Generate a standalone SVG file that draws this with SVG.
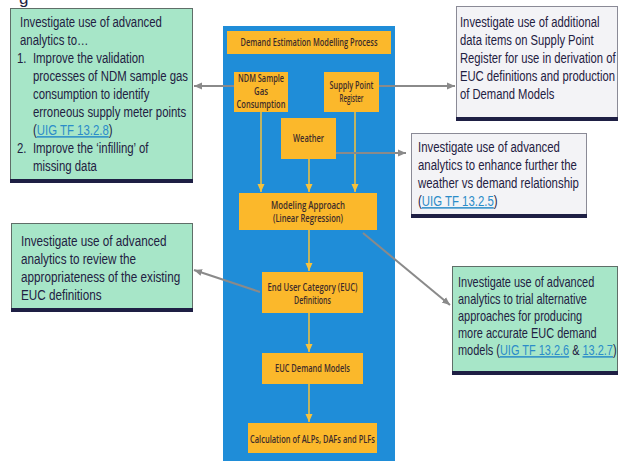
<svg xmlns="http://www.w3.org/2000/svg" width="619" height="464" viewBox="0 0 619 464">
<style>
.note{font-family:"Liberation Sans",Arial,sans-serif;font-size:15px;fill:#1f2142;}
.yl{font-family:"Open Sans","Liberation Sans",sans-serif;font-size:10.5px;font-weight:600;fill:#3e2c2a;text-anchor:middle;}
.green{fill:#a7e6c8;stroke:#5f6e68;stroke-width:1;}
.white{fill:#f3f3f6;stroke:#8a8a96;stroke-width:1;}
.bar{fill:#1e1f44;}
.ybox{fill:#fbb82b;}
.link{fill:#2b8cc8;text-decoration:underline;}
.gc{stroke:#8a8a8a;stroke-width:2;fill:none;marker-end:url(#ga);}
.yc{stroke:#f7c23a;stroke-width:1.5;fill:none;marker-end:url(#ya);}
</style>
<defs>
<marker id="ga" markerUnits="userSpaceOnUse" markerWidth="10" markerHeight="10" refX="8" refY="5" orient="auto">
<path d="M0,1.5 L8,5 L0,8.5 Z" fill="#8a8a8a"/>
</marker>
<marker id="ya" markerUnits="userSpaceOnUse" markerWidth="10" markerHeight="10" refX="8" refY="5" orient="auto">
<path d="M0,1.5 L8,5 L0,8.5 Z" fill="#f7c23a"/>
</marker>
</defs>
<rect width="619" height="464" fill="#ffffff"/>
<text x="19" y="4" style="font-family:'Liberation Sans',Arial,sans-serif;font-size:17px;fill:#1f2142;">g</text>

<g id="panel">
<rect x="223" y="26" width="172" height="435" fill="#1f8dd8"/>
</g>

<g id="connectors">
<line class="yc" x1="261" y1="112" x2="261" y2="192"/>
<line class="yc" x1="309" y1="159" x2="309" y2="192"/>
<line class="yc" x1="355" y1="112" x2="355" y2="192"/>
<line class="yc" x1="309" y1="230" x2="309" y2="271"/>
<line class="yc" x1="309" y1="313" x2="309" y2="352"/>
<line class="yc" x1="309" y1="384" x2="309" y2="422"/>
<line class="gc" x1="234" y1="86" x2="194" y2="86"/>
<line class="gc" x1="379" y1="86" x2="455" y2="86"/>
<line class="gc" x1="336" y1="153" x2="406" y2="153"/>
<line class="gc" x1="260" y1="292" x2="194" y2="270"/>
<line class="gc" x1="363" y1="233" x2="450" y2="305"/>
</g>

<g id="title">
<rect class="ybox" x="227" y="31" width="164" height="23"/>
<text class="yl" x="309" y="46" textLength="137" lengthAdjust="spacingAndGlyphs">Demand Estimation Modelling Process</text>
</g>
<g id="ndm">
<rect class="ybox" x="234" y="72" width="54" height="40"/>
<text class="yl" x="261" y="82" textLength="46" lengthAdjust="spacingAndGlyphs">NDM Sample</text>
<text class="yl" x="261" y="95" textLength="14" lengthAdjust="spacingAndGlyphs">Gas</text>
<text class="yl" x="261" y="108" textLength="49" lengthAdjust="spacingAndGlyphs">Consumption</text>
</g>
<g id="spr">
<rect class="ybox" x="324" y="72" width="55" height="40"/>
<text class="yl" x="351.5" y="89" textLength="44" lengthAdjust="spacingAndGlyphs">Supply Point</text>
<text class="yl" x="351.5" y="102" textLength="24" lengthAdjust="spacingAndGlyphs">Register</text>
</g>
<g id="weather">
<rect class="ybox" x="281" y="118" width="55" height="41"/>
<text class="yl" x="308.5" y="142" textLength="31" lengthAdjust="spacingAndGlyphs">Weather</text>
</g>
<g id="modeling">
<rect class="ybox" x="239" y="193" width="138" height="37"/>
<text class="yl" x="308" y="209" textLength="74" lengthAdjust="spacingAndGlyphs">Modeling Approach</text>
<text class="yl" x="308" y="222" textLength="70" lengthAdjust="spacingAndGlyphs">(Linear Regression)</text>
</g>
<g id="euc">
<rect class="ybox" x="262" y="272" width="101" height="41"/>
<text class="yl" x="312.5" y="291" textLength="90" lengthAdjust="spacingAndGlyphs">End User Category (EUC)</text>
<text class="yl" x="312.5" y="304" textLength="37" lengthAdjust="spacingAndGlyphs">Definitions</text>
</g>
<g id="eucmodels">
<rect class="ybox" x="262" y="353" width="101" height="31"/>
<text class="yl" x="312.5" y="372" textLength="75" lengthAdjust="spacingAndGlyphs">EUC Demand Models</text>
</g>
<g id="calc">
<rect class="ybox" x="248" y="423" width="129" height="30"/>
<text class="yl" x="312.5" y="443" textLength="125" lengthAdjust="spacingAndGlyphs">Calculation of ALPs, DAFs and PLFs</text>
</g>

<g id="note-validation">
<rect class="green" x="10.5" y="8.5" width="182" height="172"/>
<rect class="bar" x="10" y="179" width="183" height="4"/>
<g transform="translate(17 0) scale(0.76 1)">
<text class="note" x="4" y="27">Investigate use of advanced</text>
<text class="note" x="4" y="45">analytics to…</text>
<text class="note" x="0" y="63">1.</text>
<text class="note" x="21" y="63">Improve the validation</text>
<text class="note" x="21" y="81">processes of NDM sample gas</text>
<text class="note" x="21" y="99">consumption to identify</text>
<text class="note" x="21" y="117">erroneous supply meter points</text>
<text class="note" x="21" y="135">(<tspan class="link">UIG TF 13.2.8</tspan>)</text>
<text class="note" x="0" y="153">2.</text>
<text class="note" x="21" y="153">Improve the ‘infilling’ of</text>
<text class="note" x="21" y="171">missing data</text>
</g>
</g>

<g id="note-spr">
<rect class="white" x="456.5" y="6.5" width="161" height="112"/>
<rect class="bar" x="456" y="117" width="162" height="4"/>
<g transform="translate(460 0) scale(0.75 1)">
<text class="note" x="0" y="27">Investigate use of additional</text>
<text class="note" x="0" y="45">data items on Supply Point</text>
<text class="note" x="0" y="63">Register for use in derivation of</text>
<text class="note" x="0" y="81">EUC definitions and production</text>
<text class="note" x="0" y="99">of Demand Models</text>
</g>
</g>

<g id="note-weather">
<rect class="white" x="411.5" y="133.5" width="175" height="82"/>
<rect class="bar" x="411" y="214" width="176" height="4"/>
<g transform="translate(418 0) scale(0.76 1)">
<text class="note" x="0" y="152">Investigate use of advanced</text>
<text class="note" x="0" y="170">analytics to enhance further the</text>
<text class="note" x="0" y="188">weather vs demand relationship</text>
<text class="note" x="0" y="206">(<tspan class="link">UIG TF 13.2.5</tspan>)</text>
</g>
</g>

<g id="note-euc">
<rect class="green" x="11.5" y="223.5" width="181" height="85"/>
<rect class="bar" x="11" y="308" width="182" height="4"/>
<g transform="translate(21 0) scale(0.78 1)">
<text class="note" x="0" y="246">Investigate use of advanced</text>
<text class="note" x="0" y="264">analytics to review the</text>
<text class="note" x="0" y="282">appropriateness of the existing</text>
<text class="note" x="0" y="300">EUC definitions</text>
</g>
</g>

<g id="note-models">
<rect class="green" x="452.5" y="266.5" width="165" height="105"/>
<rect class="bar" x="452" y="371" width="166" height="4"/>
<g transform="translate(458 0) scale(0.73 1)">
<text class="note" x="0" y="287">Investigate use of advanced</text>
<text class="note" x="0" y="304">analytics to trial alternative</text>
<text class="note" x="0" y="321">approaches for producing</text>
<text class="note" x="0" y="338">more accurate EUC demand</text>
<text class="note" x="0" y="355">models (<tspan class="link">UIG TF 13.2.6</tspan> &amp; <tspan class="link">13.2.7</tspan>)</text>
</g>
</g>
</svg>
